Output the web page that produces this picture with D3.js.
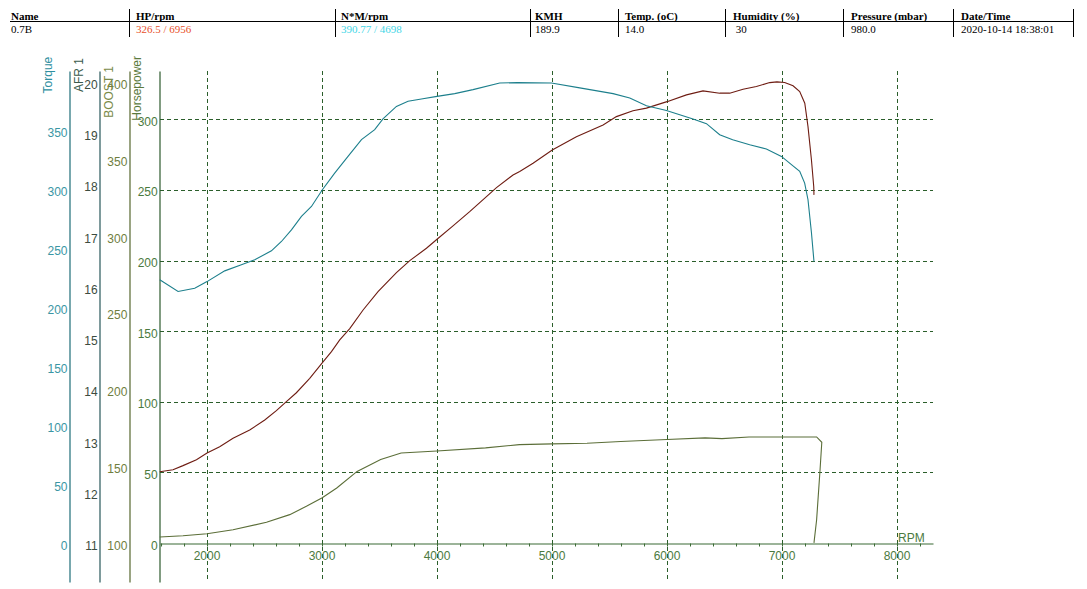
<!DOCTYPE html>
<html><head><meta charset="utf-8">
<script src="https://cdn.jsdelivr.net/npm/d3@7"></script>
<style>
html,body{margin:0;padding:0;background:#fff;}
svg{display:block;}
</style></head>
<body><svg id="c" width="1087" height="589"></svg>
<script>
// ---- header table ----
const headerCols = ["Name","HP/rpm","N*M/rpm","KMH","Temp. (oC)","Humidity (%)","Pressure (mbar)","Date/Time"];
const rowValues  = ["0.7B","326.5 / 6956","390.77 / 4698","189.9","14.0"," 30","980.0","2020-10-14 18:38:01"];

// ---- axis ticks ----
const rpmMajor = [2000,3000,4000,5000,6000,7000,8000];
const rpmMinor = d3.range(1600, 8300, 200);
const torqueTicks = [0,50,100,150,200,250,300,350];
const afrTicks = [11,12,13,14,15,16,17,18,19,20];
const boostTicks = [100,150,200,250,300,350,400];
const hpTicks = [0,50,100,150,200,250,300];

// ---- series ----
const torqueRpm = [1589,1748,1893,2000,2154,2299,2415,2560,2647,2734,2821,2908,3003,3110,3226,3343,3458,3530,3647,3748,3864,4000,4154,4313,4545,4698,4995,5241,5531,5676,5821,5995,6226,6343,6458,6571,6719,6864,6995,7082,7154,7197,7226,7256,7278];
const torqueNm  = [223.6,213.7,216.5,222.1,231.2,236.3,240.6,248.2,256.1,266.0,277.3,285.8,300.0,314.1,328.2,342.4,350.9,360.0,370.6,374.9,376.9,379.1,381.4,384.8,390.4,390.77,390.4,386.3,381.4,377.8,371.2,367.2,360.0,356.0,346.6,342.4,338.1,334.5,328.2,321.2,315.5,305.6,291.5,263.5,239.1];

const hpRpm = [1589,1704,1791,1908,2000,2110,2226,2371,2502,2603,2690,2777,2893,3000,3082,3154,3241,3357,3487,3647,3763,3908,4000,4139,4284,4430,4517,4661,4719,4835,5002,5212,5444,5560,5704,5821,6000,6169,6313,6458,6545,6661,6777,6893,6956,7023,7096,7154,7198,7226,7256,7276,7278];
const hpVal = [50.5,51.9,54.8,59.0,63.7,68.2,74.2,80.0,87.1,93.7,100.1,106.4,116.6,127.3,135.5,143.8,151.8,165.0,178.0,191.4,199.9,208.7,215.1,224.5,234.6,245.3,251.6,260.6,263.0,268.9,278.3,287.7,296.0,301.9,306.0,307.9,312.5,317.3,320.1,318.5,318.5,321.3,323.2,326.0,326.5,326.1,323.7,319.6,311.4,294.8,271.2,252.3,246.5];

const boostRpm = [1589,1791,2000,2226,2517,2719,2864,3002,3128,3305,3510,3688,3999,4422,4716,5001,5304,5598,5999,6331,6478,6713,6998,7301,7346,7331,7301,7278];
const boostVal = [104.4,105.2,106.5,109.1,113.9,118.9,124.3,129.9,136.2,147.0,154.7,159.0,160.3,162.3,164.4,164.9,165.3,166.4,167.7,168.8,168.3,169.4,169.4,169.4,165.9,148.2,115.6,100.5];

// ---- drawing ----
const svg = d3.select("#c");
svg.append("rect").attr("width",1087).attr("height",589).attr("fill","#fff");

// table
const colX = [11,136,341,535,625,733,851,961];
const sepX = [129,335,530,618,725,843,953,1073];
const valColors = ["#000","#e8502a","#3fd6e6","#000","#000","#000","#000","#000"];
const tbl = svg.append("g").attr("font-family","'Liberation Serif', 'Times New Roman', serif").attr("font-size",11);
tbl.selectAll("text.h").data(headerCols).join("text").attr("class","h")
  .attr("x",(d,i)=>colX[i]).attr("y",19.5).attr("font-weight","bold").attr("fill","#000").text(d=>d);
tbl.selectAll("text.v").data(rowValues).join("text").attr("class","v")
  .attr("x",(d,i)=>colX[i]).attr("y",33).attr("fill",(d,i)=>valColors[i]).attr("xml:space","preserve").style("white-space","pre").text(d=>d);
tbl.append("line").attr("x1",10).attr("x2",1074).attr("y1",21.5).attr("y2",21.5).attr("stroke","#000").attr("stroke-width",1);
tbl.selectAll("line.s").data(sepX).join("line").attr("class","s")
  .attr("x1",d=>d+0.5).attr("x2",d=>d+0.5).attr("y1",9).attr("y2",37).attr("stroke","#000");

// scales
const x = d3.scaleLinear().domain([1591, 8313]).range([160, 933]);
const yTop = 71, yBot = 582;
const yHP = d3.scaleLinear().domain([-27.6, 334.2]).range([yBot, yTop]);
const yTq = d3.scaleLinear().domain([-32.5, 400.6]).range([yBot, yTop]);
const yAfr = d3.scaleLinear().domain([10.253, 20.22]).range([yBot, yTop]);
const yBoost = d3.scaleLinear().domain([75.1, 407.3]).range([yBot, yTop]);

const font = "'Liberation Sans', Arial, sans-serif";
const gridColor = "#2b5e2b";

// gridlines
const grid = svg.append("g").attr("stroke",gridColor).attr("stroke-dasharray","4,3").attr("stroke-width",1);
grid.selectAll("line.hg").data(hpTicks.filter(d=>d>0)).join("line").attr("class","hg")
  .attr("x1",160).attr("x2",933).attr("y1",d=>Math.round(yHP(d))+0.5).attr("y2",d=>Math.round(yHP(d))+0.5);
grid.selectAll("line.vg").data(rpmMajor).join("line").attr("class","vg")
  .attr("x1",d=>Math.round(x(d))+0.5).attr("x2",d=>Math.round(x(d))+0.5).attr("y1",yTop).attr("y2",yBot);

// y axes
function yAxis(scale, ticks, xpos, lineColor, labelColor, pad){
  const g = svg.append("g").attr("transform",`translate(${xpos},0)`)
    .call(d3.axisLeft(scale).tickValues(ticks).tickSize(0).tickSizeOuter(0).tickPadding(pad));
  g.select(".domain").attr("stroke",lineColor).attr("stroke-width",1.2);
  g.selectAll("text").attr("fill",labelColor).attr("font-family",font).attr("font-size",12).attr("dy","0.5em");
  return g;
}
yAxis(yTq, torqueTicks, 69.5, "#1e6d78", "#3a96a4", 2);
yAxis(yAfr, afrTicks, 99.5, "#28585a", "#3c4c40", 1.8);
yAxis(yBoost, boostTicks, 129.5, "#56672e", "#6f7e3e", 2.2);
yAxis(yHP, hpTicks, 159.5, "#2d5a2d", "#4b7a3e", 1.8);

// axis titles
const titles = [
  {t:"Torque", x:52, y:56.7, c:"#2e8fa0"},
  {t:"AFR 1", x:82.5, y:58, c:"#3a5a4c"},
  {t:"BOOST 1", x:112.5, y:66, c:"#7a8a48"},
  {t:"Horsepower", x:141.3, y:56, c:"#5b7a3c"}
];
svg.selectAll("text.ttl").data(titles).join("text").attr("class","ttl")
  .attr("transform",d=>`translate(${d.x},${d.y}) rotate(-90)`).attr("text-anchor","end")
  .attr("font-family",font).attr("font-size",12).attr("fill",d=>d.c).text(d=>d.t);

// x axis
const xAxisY = 543.5;
const xa = svg.append("g").attr("transform",`translate(0,${xAxisY})`)
  .call(d3.axisBottom(x).tickValues(rpmMinor).tickSize(3).tickSizeOuter(0).tickFormat(""));
xa.select(".domain").attr("stroke","#3a6a34").attr("stroke-width",1.2);
xa.selectAll(".tick line").attr("stroke","#3a6a34");
svg.append("g").selectAll("text").data(rpmMajor).join("text")
  .attr("x",d=>x(d)).attr("y",560).attr("text-anchor","middle")
  .attr("font-family",font).attr("font-size",12).attr("fill","#4b7a3e").text(d=>d);
svg.append("text").attr("x",898).attr("y",542).attr("font-family",font).attr("font-size",12)
  .attr("fill","#4b7a3e").text("RPM");

// curves
const line = d3.line().x(d=>x(d[0])).y(d=>d[1]);
function drawCurve(rpms, vals, scale, color){
  const pts = rpms.map((r,i)=>[r, scale(vals[i])]);
  svg.append("path").datum(pts).attr("d",line).attr("fill","none").attr("stroke",color).attr("stroke-width",1.1);
}
drawCurve(boostRpm, boostVal, yBoost, "#5b6e38");
drawCurve(hpRpm, hpVal, yHP, "#6e1c12");
drawCurve(torqueRpm, torqueNm, yTq, "#1c7f8c");
</script></body></html>
